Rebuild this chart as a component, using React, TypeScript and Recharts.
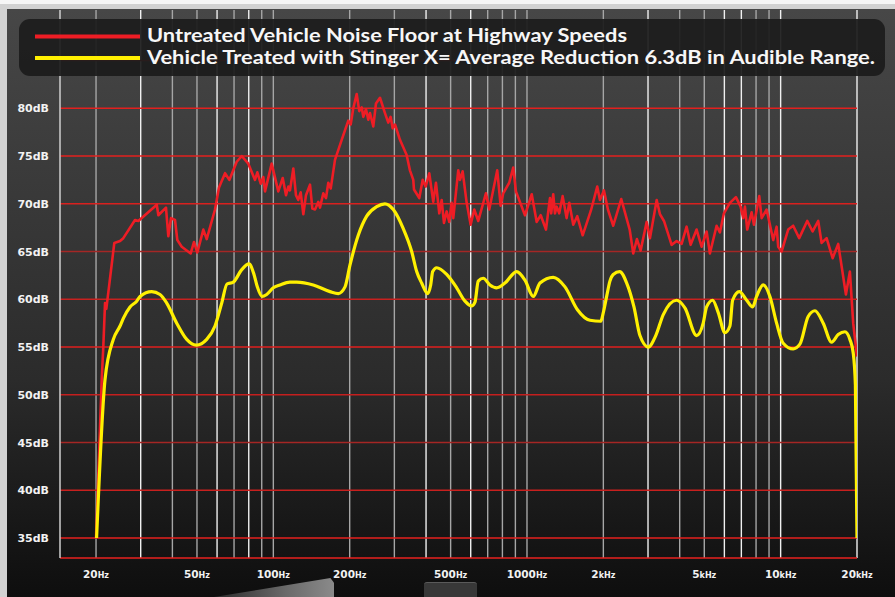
import React from "react";
import { LineChart, Line, XAxis, YAxis, ReferenceLine, Legend } from "recharts";

// frequency (Hz) / level (dB)
const untreatedFreq = [
  20, 21.06, 21.37, 21.7, 21.96, 23.61, 24.87, 25.62, 28.49, 29.36,
  34.71, 35.22, 37.74, 38.55, 39.5, 40.96, 41.83, 43.53, 47.23, 48.67,
  50.16, 52.97, 54.62, 58.89, 61.06, 64.51, 67.07, 71.72, 75.05, 79.68,
  84.68, 86.48, 89.19, 91.31, 92.73, 98.52, 104.6, 108.9, 112.2, 114.6,
  116.3, 119.9, 122.8, 125.4, 128.2, 131.3, 134.5, 139.5, 142.5, 146.0,
  150.4, 152.7, 157.4, 161.3, 164.7, 168.4, 175.0, 186.0, 197.5, 201.8,
  206.6, 213.1, 218.2, 223.0, 226.3, 231.9, 236.8, 240.5, 247.8, 253.9,
  263.3, 275.5, 283.9, 290.1, 295.4, 301.7, 315.7, 335.4, 345.6, 356.2,
  358.5, 376.2, 387.9, 398.6, 411.9, 427.1, 437.7, 451.0, 460.9, 470.6,
  482.3, 493.8, 504.7, 512.1, 535.8, 544.3, 557.7, 578.4, 599.7, 619.6,
  642.5, 688.9, 710.0, 763.4, 787.3, 806.0, 851.2, 882.7, 904.5, 981.8,
  1044, 1092, 1133, 1188, 1232, 1246, 1269, 1289, 1309, 1340,
  1382, 1433, 1468, 1522, 1578, 1658, 1787, 1892, 1939, 2011,
  2085, 2188, 2353, 2540, 2624, 2713, 2806, 2963, 3053, 3246,
  3344, 3468, 3717, 3890, 4070, 4259, 4417, 4663, 4880, 5107,
  5262, 5591, 5761, 5975, 6310, 6664, 6954, 7121, 7232, 7383,
  7685, 7848, 8235, 8415, 8805, 9347, 9640, 9781, 10087, 10708,
  11205, 11834, 12728, 13367, 14065, 14506, 15179, 16031, 16864, 18085,
  18751, 19321, 20000,
];
const untreatedDb = [
  35.0, 51.6, 55.1, 59.6, 59.0, 65.9, 66.1, 66.4, 68.3, 68.2,
  69.9, 68.8, 69.6, 66.6, 68.5, 68.3, 66.2, 65.5, 64.8, 66.0,
  64.9, 67.3, 66.3, 69.4, 71.7, 73.2, 72.5, 74.4, 75.0, 74.2,
  72.5, 73.3, 72.1, 72.8, 71.3, 74.2, 71.3, 72.7, 70.9, 71.8,
  71.4, 73.7, 70.9, 70.4, 71.2, 68.9, 70.9, 72.0, 69.5, 69.4,
  70.2, 69.6, 71.1, 70.6, 72.2, 71.6, 74.6, 76.7, 78.7, 78.3,
  80.0, 81.5, 79.7, 80.1, 79.1, 79.9, 78.8, 79.5, 78.1, 80.5,
  81.1, 79.5, 78.5, 79.1, 77.9, 78.3, 76.7, 75.1, 73.5, 72.5,
  71.5, 70.6, 72.5, 71.8, 73.2, 70.2, 72.2, 69.0, 70.4, 68.0,
  69.2, 68.1, 70.1, 68.5, 73.5, 72.5, 73.4, 70.1, 67.8, 69.4,
  68.2, 71.1, 69.4, 73.5, 69.8, 71.1, 72.2, 73.8, 71.3, 68.8,
  71.0, 68.1, 68.8, 67.3, 70.6, 69.0, 71.0, 69.0, 69.7, 69.0,
  70.8, 68.5, 70.1, 67.8, 68.7, 66.7, 69.3, 71.8, 70.4, 71.4,
  69.4, 67.7, 70.5, 67.3, 64.8, 66.3, 65.1, 68.1, 66.4, 70.4,
  68.9, 68.2, 65.7, 66.1, 65.8, 67.6, 65.7, 67.3, 65.5, 67.1,
  64.8, 67.7, 67.0, 69.0, 70.1, 70.7, 69.7, 68.5, 69.7, 67.3,
  69.1, 67.8, 70.8, 68.5, 69.4, 66.2, 67.6, 65.5, 65.0, 67.3,
  67.7, 66.4, 68.2, 67.1, 68.2, 65.9, 66.4, 64.3, 65.8, 60.5,
  62.9, 57.5, 54.0,
];

const treatedFreq = [
  20.1, 21.7, 23.4, 24.87, 25.62, 27.23, 28.93, 29.81, 33.17, 35.75,
  37.99, 41.6, 45.56, 49.71, 54.62, 58.89, 62.59, 65.67, 69.54, 75.05,
  80.19, 83.91, 86.48, 90.24, 94.18, 100.0, 106.2, 116.3, 123.6, 143.7,
  167.3, 180.4, 191.7, 200.6, 216.2, 233.4, 255.6, 275.5, 297.1, 325.3,
  351.1, 367.4, 384.4, 406.0, 417.2, 424.9, 440.5, 482.4, 528.3, 569.6,
  605.2, 623.6, 642.5, 672.5, 714.5, 759.3, 818.7, 910.4, 981.8, 1059,
  1125, 1269, 1412, 1581, 1771, 1954, 1999, 2061, 2123, 2188,
  2320, 2472, 2641, 2788, 3006, 3219, 3446, 3890, 4194, 4663,
  4951, 5107, 5393, 5675, 6031, 6310, 6467, 6869, 7344, 7754,
  8041, 8539, 9071, 9640, 10234, 11205, 11911, 12842, 13650, 14718,
  15883, 16864, 17924, 18751, 19321, 19712, 20000,
];
const treatedDb = [
  35.0, 51.6, 55.8, 57.2, 58.0, 59.2, 59.8, 60.3, 60.8, 60.5,
  59.6, 57.5, 55.8, 55.2, 55.8, 57.2, 59.6, 61.6, 61.8, 63.1,
  63.7, 62.6, 61.3, 60.3, 60.5, 61.2, 61.5, 61.8, 61.8, 61.5,
  60.8, 60.6, 61.3, 63.6, 66.7, 68.7, 69.7, 70.0, 69.4, 67.4,
  65.0, 62.9, 61.7, 60.6, 61.5, 62.9, 63.3, 62.6, 61.2, 59.8,
  59.3, 59.7, 61.9, 62.2, 61.5, 61.2, 61.7, 62.9, 62.0, 60.3,
  61.7, 62.3, 61.3, 58.9, 57.8, 57.7, 58.6, 60.3, 61.9, 62.6,
  62.9, 61.7, 59.2, 56.2, 55.0, 56.2, 58.4, 59.9, 59.1, 56.2,
  57.5, 59.2, 59.9, 58.6, 56.5, 57.2, 59.9, 60.8, 59.9, 59.2,
  60.3, 61.5, 60.3, 57.5, 55.4, 54.8, 55.3, 58.2, 58.8, 57.5,
  55.5, 56.3, 56.6, 55.8, 54.4, 51.0, 35.0,
];

const freqGrid = [
  20, 30, 40, 50, 60, 70, 80, 90, 100, 200, 300, 400, 500, 600, 700, 800, 900,
  1000, 2000, 3000, 4000, 5000, 6000, 7000, 8000, 9000, 10000, 20000,
];
const freqTicks = [20, 50, 100, 200, 500, 1000, 2000, 5000, 10000, 20000];
const freqTickNumber = ["20", "50", "100", "200", "500", "1000", "2", "5", "10", "20"];
const freqTickUnit = ["Hz", "Hz", "Hz", "Hz", "Hz", "Hz", "kHz", "kHz", "kHz", "kHz"];
const dbTicks = [35, 40, 45, 50, 55, 60, 65, 70, 75, 80];
const dbGrid = [35, 40, 45, 50, 55, 60, 65, 70, 75, 80, 85];

const untreatedName = "Untreated Vehicle Noise Floor at Highway Speeds";
const treatedName = "Vehicle Treated with Stinger X= Average Reduction 6.3dB in Audible Range.";

const untreated = untreatedFreq.map((f, i) => ({ f, db: untreatedDb[i] }));
const treated = treatedFreq.map((f, i) => ({ f, db: treatedDb[i] }));

// styling
const brightFreqLines = new Set([30, 60, 80, 400, 600, 3000, 6000, 7000, 10000, 20000]);
const dbLineColor: Record<number, string> = {
  35: "#e5201e", 40: "#c8201e", 45: "#a52624", 50: "#c41f1e", 55: "#e01f1e",
  60: "#c8211f", 65: "#a42725", 70: "#d9201e", 75: "#e3201e", 80: "#e3201e", 85: "#d4201e",
};
const FONT = "'DejaVu Sans', sans-serif";
const legendTextWidth = [480, 728];

function FreqTick(props: any) {
  const { x, y, payload } = props;
  const i = freqTicks.indexOf(payload.value);
  return (
    <text x={x} y={y + 18} textAnchor="middle" fill="#f2f2f2" fontFamily={FONT} fontWeight={700}>
      <tspan fontSize={10.5}>{freqTickNumber[i]}</tspan>
      <tspan fontSize={8}>{freqTickUnit[i]}</tspan>
    </text>
  );
}

function DbTick(props: any) {
  const { x, y, payload } = props;
  return (
    <text x={x} y={y + 4} textAnchor="end" fill="#f2f2f2" fontFamily={FONT} fontWeight={700} fontSize={11}>
      {payload.value}dB
    </text>
  );
}

function LegendBox(props: any) {
  const items = props.payload || [];
  return (
    <svg width={866} height={57} style={{ display: "block" }}>
      <rect x={0} y={0} width={866} height={57} rx={11} fill="#1c1c1c" fillOpacity={0.93} />
      {items.map((it: any, i: number) => (
        <g key={i}>
          <line
            x1={16}
            x2={121}
            y1={17.5 + i * 21.5}
            y2={17.5 + i * 21.5}
            stroke={it.color}
            strokeWidth={4}
          />
          <text
            x={128}
            y={23 + i * 22}
            fill="#f7f7f7"
            fontFamily="Lato, sans-serif"
            fontWeight={700}
            fontSize={18}
            textLength={legendTextWidth[i]}
            lengthAdjust="spacingAndGlyphs"
          >
            {it.value}
          </text>
        </g>
      ))}
    </svg>
  );
}

export default function App() {
  return (
    <div
      style={{
        position: "absolute",
        left: 0,
        top: 0,
        width: 895,
        height: 597,
        overflow: "hidden",
        background: "linear-gradient(#f6f6f6 0px, #f6f6f6 4px, #d2d2d2 4px)",
      }}
    >
      <div
        style={{
          position: "absolute",
          left: 7,
          top: 9,
          right: 0,
          bottom: 0,
          background: "linear-gradient(to bottom, #474747 0%, #2b2b2b 63%, #141414 92%, #0e0e0e 100%)",
        }}
      />
      {/* product photos peeking in at the bottom */}
      <div
        style={{
          position: "absolute",
          left: 214,
          top: 578,
          width: 120,
          height: 19,
          background: "linear-gradient(to right, #2a2a2a, #6a6a6a 60%, #8a8a8a)",
          clipPath: "polygon(0 100%, 97% 0, 100% 25%, 100% 100%)",
        }}
      />
      <div
        style={{
          position: "absolute",
          left: 424,
          top: 582,
          width: 53,
          height: 15,
          background: "#383838",
          borderTop: "1px solid #5a5a5a",
          borderRadius: "3px 3px 0 0",
        }}
      />
      <div style={{ position: "absolute", left: 0, top: 0 }}>
        <LineChart width={895} height={597} margin={{ top: 10, right: 38, bottom: 0, left: 0 }}>
          <XAxis
            dataKey="f"
            type="number"
            scale="log"
            domain={[14.42, 20000]}
            allowDataOverflow
            ticks={freqTicks}
            interval={0}
            height={39}
            tickSize={0}
            tickLine={false}
            axisLine={{ stroke: "#e8221f", strokeWidth: 1.5 }}
            tick={(p: any) => <FreqTick {...p} />}
          />
          <YAxis
            type="number"
            domain={[32.91, 90.29]}
            allowDataOverflow
            ticks={dbTicks}
            interval={0}
            width={60}
            tickSize={0}
            tickMargin={11}
            tickLine={false}
            axisLine={{ stroke: "#cfcfcf", strokeWidth: 1.5 }}
            tick={(p: any) => <DbTick {...p} />}
          />
          {freqGrid.map((f) => (
            <ReferenceLine
              key={"v" + f}
              x={f}
              stroke={brightFreqLines.has(f) ? "#f0f0f0" : "#a6a6a6"}
              strokeWidth={1.4}
            />
          ))}
          {dbGrid.map((v) => (
            <ReferenceLine key={"h" + v} y={v} stroke={dbLineColor[v]} strokeWidth={1.5} />
          ))}
          <Line
            data={untreated}
            dataKey="db"
            name={untreatedName}
            type="linear"
            stroke="#ee1d25"
            strokeWidth={2.6}
            strokeLinejoin="round"
            dot={false}
            activeDot={false}
            isAnimationActive={false}
          />
          <Line
            data={treated}
            dataKey="db"
            name={treatedName}
            type="monotone"
            stroke="#fff000"
            strokeWidth={3.2}
            dot={false}
            activeDot={false}
            isAnimationActive={false}
          />
          <Legend
            layout="horizontal"
            verticalAlign="middle"
            align="center"
            wrapperStyle={{ top: 19, left: 19, width: 866, height: 57 }}
            content={(p: any) => <LegendBox {...p} />}
          />
        </LineChart>
      </div>
    </div>
  );
}
